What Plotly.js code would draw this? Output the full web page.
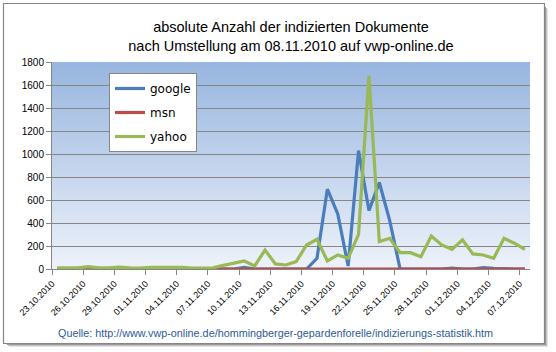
<!DOCTYPE html>
<html>
<head>
<meta charset="utf-8">
<script src="https://cdn.plot.ly/plotly-3.0.1.min.js"></script>
<style>
html,body{margin:0;padding:0;background:#fff;}
#chart{width:556px;height:352px;}
</style>
</head>
<body>
<div id="chart"></div>
<script>
// ---- data ----
const dates = [
  '2010-10-23','2010-10-24','2010-10-25','2010-10-26','2010-10-27','2010-10-28','2010-10-29','2010-10-30',
  '2010-10-31','2010-11-01','2010-11-02','2010-11-03','2010-11-04','2010-11-05','2010-11-06','2010-11-07',
  '2010-11-08','2010-11-09','2010-11-10','2010-11-11','2010-11-12','2010-11-13','2010-11-14','2010-11-15',
  '2010-11-16','2010-11-17','2010-11-18','2010-11-19','2010-11-20','2010-11-21','2010-11-22','2010-11-23',
  '2010-11-24','2010-11-25','2010-11-26','2010-11-27','2010-11-28','2010-11-29','2010-11-30','2010-12-01',
  '2010-12-02','2010-12-03','2010-12-04','2010-12-05','2010-12-06','2010-12-07'
];
const google = [
  0,0,0,0,0,0,0,0,
  0,0,0,0,0,0,0,0,
  0,0,15,0,0,0,0,0,
  0,93,694,479,26,1030,508,752,
  421,0,0,0,0,0,8,0,
  0,12,5,0,0,0
];
const msn = [
  0,0,0,0,0,0,0,0,
  0,0,0,0,0,0,0,0,
  0,0,0,0,0,0,0,0,
  0,0,0,0,0,0,0,0,
  0,0,0,0,0,0,0,0,
  4,0,0,0,0,0
];
const yahoo = [
  11,10,10,20,10,10,17,10,
  8,15,15,15,15,8,8,10,
  32,52,70,26,165,44,35,64,
  209,258,70,122,93,302,1681,238,
  267,142,142,107,287,209,171,253,
  131,122,93,267,224,171
];
const seriesNames = ['google','msn','yahoo'];
const titleLines = ['absolute Anzahl der indizierten Dokumente','nach Umstellung am 08.11.2010 auf vwp-online.de'];
const sourceText = 'Quelle: http://www.vwp-online.de/hommingberger-gepardenforelle/indizierungs-statistik.htm';

// ---- chart ----
const narrow = "'Liberation Sans Narrow','Liberation Sans',Arial,sans-serif";
const colors = ['#4A7EBB','#BE4B48','#98B954'];
const xs = dates.map(d => d + 'T12:00');   // each day centred in its slot
const values = [google, msn, yahoo];

const traces = values.map((v, i) => ({
  type: 'scatter', mode: 'lines', x: xs, y: v, name: seriesNames[i],
  legendgroup: seriesNames[i],
  line: {color: colors[i], width: 3.2},
  hoverinfo: 'x+y+name'
}));

// plot area in pixels: x 52..530, y 62..269
const L = 52, R = 530, T = 62, B = 269, W = 556, H = 352;
const px = x => (x - L) / (R - L);
const py = y => (B - y) / (B - T);

const grad = "<svg xmlns='http://www.w3.org/2000/svg' width='10' height='100' preserveAspectRatio='none' viewBox='0 0 10 100'>" +
  "<defs><linearGradient id='g' x1='0' y1='0' x2='0' y2='1'>" +
  "<stop offset='0' stop-color='#97B5DF'/><stop offset='1' stop-color='#EEF2FA'/></linearGradient></defs>" +
  "<rect width='10' height='100' fill='url(#g)'/></svg>";
const gradURI = 'data:image/svg+xml;charset=utf-8,' + encodeURIComponent(grad);

const shapes = [];
// shadow
['#9a9a9a','#c4c4c4','#e2e2e2'].forEach((c, k) => {
  const o = k + 1;
  shapes.push({type:'line', xref:'paper', yref:'paper', x0:px(545 + o - 0.5), x1:px(545 + o - 0.5), y0:py(6 + o), y1:py(344 + o), line:{color:c, width:1}});
  shapes.push({type:'line', xref:'paper', yref:'paper', x0:px(6 + o), x1:px(545 + o), y0:py(344 + o - 0.5), y1:py(344 + o - 0.5), line:{color:c, width:1}});
});
// frame
shapes.push({type:'rect', xref:'paper', yref:'paper', x0:px(3.5), x1:px(544.5), y0:py(343.5), y1:py(3.5), line:{color:'#868686', width:1.2}, fillcolor:'rgba(0,0,0,0)'});

const layout = {
  width: W, height: H,
  margin: {l: L, r: W - R, t: T, b: H - B, pad: 0},
  paper_bgcolor: '#ffffff',
  plot_bgcolor: 'rgba(0,0,0,0)',
  font: {family: narrow, size: 10, color: '#000'},
  title: {
    text: titleLines.join('<br>'),
    font: {family: narrow, size: 14.5, color: '#000'},
    x: 0.5, xanchor: 'center', xref: 'paper',
    y: 1 - 32 / H, yanchor: 'top', yref: 'container'
  },
  xaxis: {
    type: 'date',
    range: ['2010-10-23', '2010-12-08'],
    tick0: '2010-10-23', dtick: 3 * 86400000,
    tickformat: '%d.%m.%Y',
    tickangle: -45,
    ticks: 'outside', ticklen: 5, tickcolor: '#868686', tickwidth: 1,
    showline: true, linecolor: '#868686', linewidth: 1,
    showgrid: false, zeroline: false,
    tickfont: {family: narrow, size: 9, color: '#000'},
    fixedrange: true
  },
  yaxis: {
    range: [0, 1800], dtick: 200, tick0: 0,
    ticks: 'outside', ticklen: 5, tickcolor: '#868686', tickwidth: 1,
    showline: true, linecolor: '#868686', linewidth: 1,
    showgrid: true, gridcolor: '#868686', gridwidth: 1,
    zeroline: false,
    tickfont: {family: narrow, size: 10, color: '#000'},
    fixedrange: true
  },
  showlegend: true,
  legend: {
    x: px(109), y: py(73), xanchor: 'left', yanchor: 'top',
    xref: 'paper', yref: 'paper',
    bgcolor: '#ffffff', bordercolor: '#868686', borderwidth: 1,
    font: {family: "'DejaVu Sans',Verdana,sans-serif", size: 12, color: '#000'},
    traceorder: 'grouped', tracegroupgap: 5,
    itemwidth: 30
  },
  images: [{
    source: gradURI, xref: 'paper', yref: 'paper',
    x: 0, y: 1, sizex: 1, sizey: 1, xanchor: 'left', yanchor: 'top',
    sizing: 'stretch', layer: 'below'
  }],
  shapes: shapes,
  annotations: [{
    text: sourceText, showarrow: false,
    xref: 'paper', yref: 'paper', x: px(275), y: py(333),
    xanchor: 'center', yanchor: 'middle',
    font: {family: narrow, size: 10.8, color: '#2E5A9A'}
  }]
};

Plotly.newPlot('chart', traces, layout, {displayModeBar: false, staticPlot: true});
</script>
</body>
</html>
